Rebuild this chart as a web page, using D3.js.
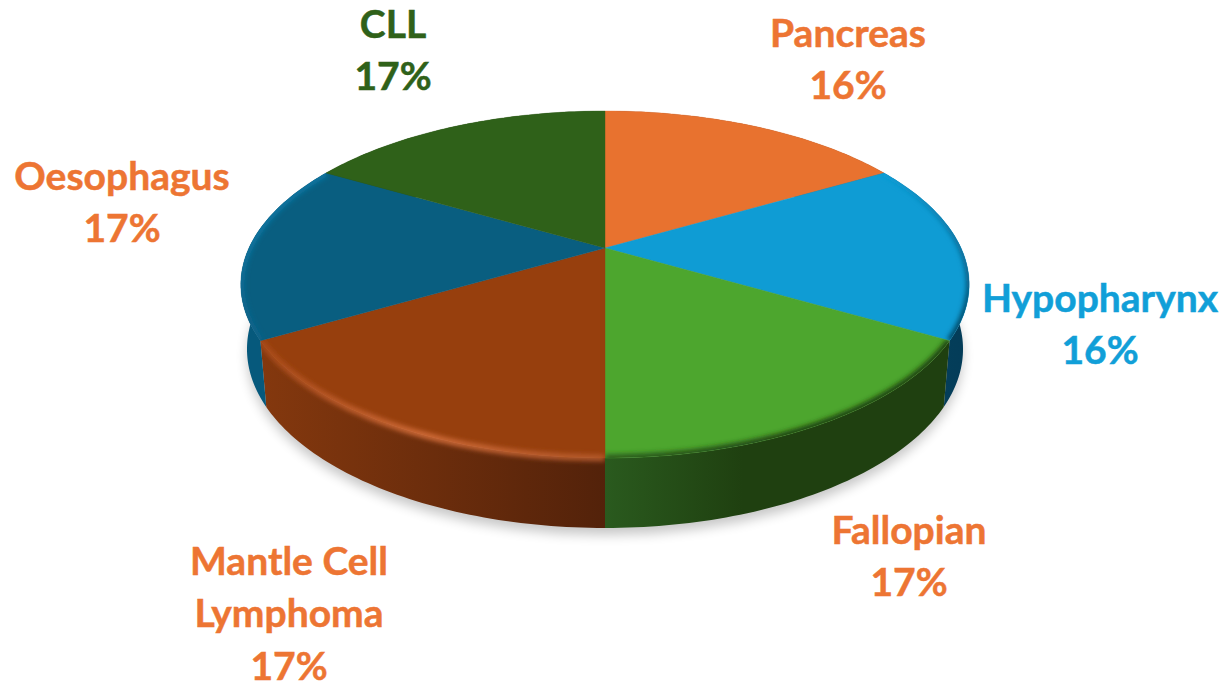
<!DOCTYPE html>
<html><head><meta charset="utf-8">
<style>html,body{margin:0;padding:0;background:#fff;overflow:hidden}svg{display:block}
text{font-family:Lato,"Open Sans",sans-serif;font-weight:700;font-size:39px;text-anchor:middle;stroke-width:.5px}</style>
<script src="https://cdn.jsdelivr.net/npm/d3@7"></script></head><body>
<script>
const categories=["Pancreas","Hypopharynx","Fallopian","Mantle Cell Lymphoma","Oesophagus","CLL"];
const shares=[1,1,1,1,1,1];
const percentLabels=["16%","16%","17%","17%","17%","17%"];
const topColors=["#E8722F","#0F9CD4","#4DA62E","#973F0D","#095E80","#2F6119"];
const labelColors=["#ED7533","#119FD8","#ED7533","#ED7533","#ED7533","#2F6119"];
const sideStart=["#8a4018","#04435f","#2a5a1e","#84380e","#06597c","#1f4010"];
const sideEnd=["#8a4018","#043c58","#1f4010","#53220a","#06597c","#1f4010"];
const labelLines=[["Pancreas"],["Hypopharynx"],["Fallopian"],["Mantle Cell","Lymphoma"],["Oesophagus"],["CLL"]];
const labelCentres=[848,1100,909,289,122,393];
const labelBaselines=[47,312,544,575,190,38];
const W=1227,H=682,lineGap=52.3;
const svg=d3.select("body").append("svg").attr("width",W).attr("height",H);
const defs=svg.append("defs");
const blur=(id,s)=>defs.append("filter").attr("id",id).attr("filterUnits","userSpaceOnUse")
  .attr("x",0).attr("y",0).attr("width",W).attr("height",H)
  .append("feGaussianBlur").attr("stdDeviation",s);
blur("shadowBlur",6);blur("rimBlur",2.4);

// perspective projection of the disc (u right, v away from viewer)
const topPlane={cx:605,cy:248,a:356,b:165.8,k:.2104};
const basePlane={cx:605,cy:311.4,a:350,b:171,k:.2104};
const project=(p,t)=>{const u=Math.sin(t),v=Math.cos(t),d=1+p.k*v;return [p.cx+p.a*u/d,p.cy-p.b*v/d];};
const arcPts=(p,t0,t1)=>d3.range(0,61).map(i=>project(p,t0+(t1-t0)*i/60));
const line=d3.line();
const slices=d3.pie().sort(null).value(d=>d)(shares);

// soft ground shadow
svg.append("path").attr("d",line(arcPts(basePlane,0,2*Math.PI))+"Z")
  .attr("transform","translate(0,7)").attr("fill","#000").attr("opacity",.22).attr("filter","url(#shadowBlur)");

// side walls
const wallPath=s=>{
  const top=arcPts(topPlane,s.startAngle,s.endAngle),base=arcPts(basePlane,s.startAngle,s.endAngle).reverse();
  return line(top.concat(base))+"Z";
};
slices.forEach((s,i)=>{
  const xs=arcPts(topPlane,s.startAngle,s.endAngle).map(d=>d[0]);
  const g=defs.append("linearGradient").attr("id","side"+i).attr("gradientUnits","userSpaceOnUse")
    .attr("x1",d3.min(xs)).attr("x2",d3.max(xs)).attr("y1",0).attr("y2",0);
  g.append("stop").attr("offset",0).attr("stop-color",sideStart[i]);
  if(i==2) g.append("stop").attr("offset",.4).attr("stop-color",sideEnd[i]);
  g.append("stop").attr("offset",1).attr("stop-color",sideEnd[i]);
  svg.append("path").attr("d",wallPath(s)).attr("fill",`url(#side${i})`);
});

// bevel colours sampled along each slice's rim, start to end of the arc
const rimStops=[null,
  ["#0f9cd4","#0a6f9b","#04405c"],
  ["#1f4010","#1f4010","#2a5a1e"],
  ["#b55a2c","#d26d3a","#a84a1a"],
  ["#0a6288","#0e76a2","#0e76a2"],
  null];
const rimWidths=[0,6,7,6,7,0];
const faces=svg.append("g");
slices.forEach((s,i)=>{
  const pts=arcPts(topPlane,s.startAngle,s.endAngle);
  const d=`M${topPlane.cx},${topPlane.cy}L`+pts.map(p=>p.join(",")).join("L")+"Z";
  faces.append("path").attr("d",d).attr("fill",topColors[i]).attr("stroke",topColors[i]).attr("stroke-width",.4);
  if(!rimStops[i]) return;
  const cp=defs.append("clipPath").attr("id","clip"+i);
  cp.append("path").attr("d",d);
  if(i==3) cp.append("path").attr("d",wallPath(s));
  const xs=pts.map(p=>p[0]),ys=pts.map(p=>p[1]);
  const fwd=i==1||i==2?[d3.max(xs),d3.min(ys),d3.min(xs),d3.max(ys)]:[d3.max(xs),d3.max(ys),d3.min(xs),d3.min(ys)];
  const x1=project(topPlane,s.startAngle),x2=project(topPlane,s.endAngle);
  const g=defs.append("linearGradient").attr("id","rim"+i).attr("gradientUnits","userSpaceOnUse")
    .attr("x1",x1[0]).attr("y1",x1[1]).attr("x2",x2[0]).attr("y2",x2[1]);
  rimStops[i].forEach((c,j)=>g.append("stop").attr("offset",j/2).attr("stop-color",c));
  faces.append("g").attr("clip-path",`url(#clip${i})`).append("path")
    .attr("d",line(pts)).attr("fill","none").attr("stroke",`url(#rim${i})`)
    .attr("stroke-width",rimWidths[i]).attr("filter","url(#rimBlur)");
});

// labels
slices.forEach((s,i)=>{
  const lines=labelLines[i].concat(percentLabels[i]);
  const t=svg.append("text").attr("fill",labelColors[i]).attr("stroke",labelColors[i]);
  lines.forEach((l,j)=>t.append("tspan").attr("x",labelCentres[i]).attr("y",labelBaselines[i]+j*lineGap).text(l));
});
</script></body></html>
